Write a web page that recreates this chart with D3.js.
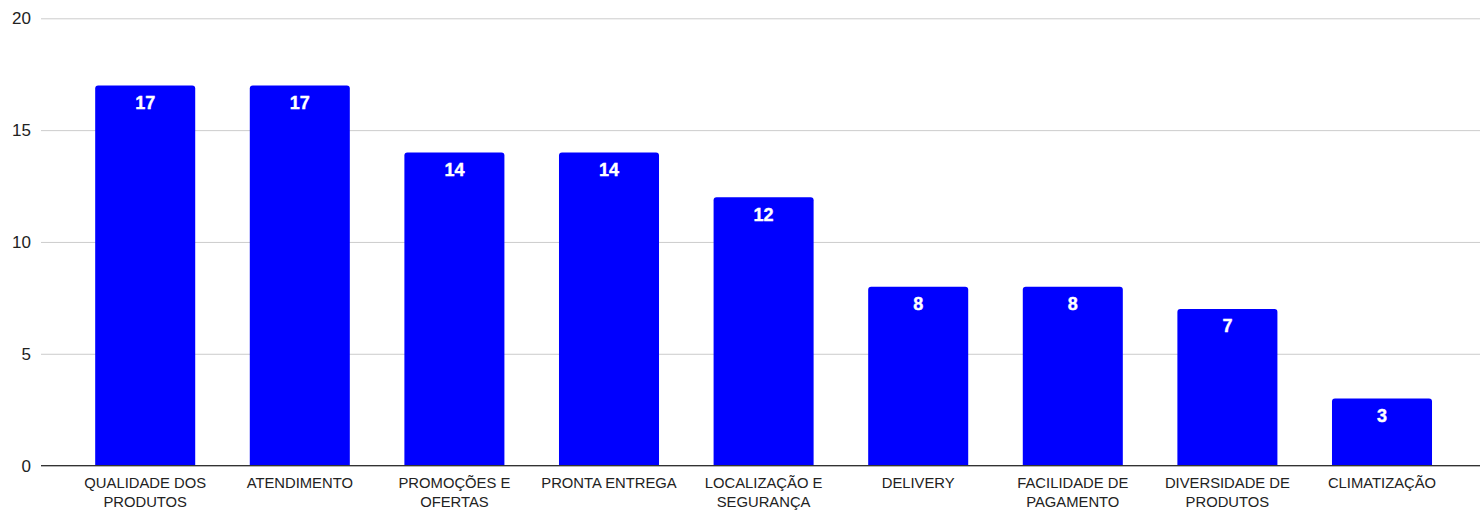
<!DOCTYPE html>
<html>
<head>
<meta charset="utf-8">
<script src="https://cdn.jsdelivr.net/npm/d3@7"></script>
<style>
  html, body { margin: 0; padding: 0; background: #fff; }
  svg { display: block; font-family: "Liberation Sans", Arial, sans-serif; }
</style>
</head>
<body>
<svg id="chart" width="1480" height="510"></svg>
<script>
const categories = [
  ["QUALIDADE DOS", "PRODUTOS"],
  ["ATENDIMENTO"],
  ["PROMOÇÕES E", "OFERTAS"],
  ["PRONTA ENTREGA"],
  ["LOCALIZAÇÃO E", "SEGURANÇA"],
  ["DELIVERY"],
  ["FACILIDADE DE", "PAGAMENTO"],
  ["DIVERSIDADE DE", "PRODUTOS"],
  ["CLIMATIZAÇÃO"]
];
const values = [17, 17, 14, 14, 12, 8, 8, 7, 3];
const yTicks = [0, 5, 10, 15, 20];

const svg = d3.select("#chart");
const gridLeft = 41, gridRight = 1480;
const yTop = 18.3, yBottom = 465.6;

const keys = categories.map((c, i) => i);
const x = d3.scaleBand().domain(keys).range([67.9, 1459.3])
  .paddingInner(0.353).paddingOuter(0.353 / 2);
const y = d3.scaleLinear().domain([0, 20]).range([yBottom, yTop]);

// gridlines
const yAxis = d3.axisLeft(y).tickValues(yTicks).tickSize(-(gridRight - gridLeft)).tickPadding(10);
const gy = svg.append("g").attr("transform", `translate(${gridLeft},0)`).call(yAxis);
gy.select(".domain").remove();
gy.selectAll(".tick line").attr("stroke", "#cccccc").attr("stroke-width", 1);
gy.selectAll(".tick text").attr("font-size", 17).attr("fill", "#222")
  .attr("font-family", "Liberation Sans, Arial, sans-serif").attr("x", -10);

// bars with rounded top corners
const r = 3;
function barPath(x0, y0, w, h) {
  const rr = Math.min(r, h);
  return `M${x0},${y0 + h}V${y0 + rr}Q${x0},${y0} ${x0 + rr},${y0}H${x0 + w - rr}Q${x0 + w},${y0} ${x0 + w},${y0 + rr}V${y0 + h}Z`;
}
svg.append("g").selectAll("path").data(values).join("path")
  .attr("d", (d, i) => barPath(x(i), y(d), x.bandwidth(), y(0) - y(d)))
  .attr("fill", "#0000ff");

// zero line
svg.append("line").attr("x1", gridLeft).attr("x2", gridRight)
  .attr("y1", y(0)).attr("y2", y(0)).attr("stroke", "#333").attr("stroke-width", 1.3);

// value labels
svg.append("g").selectAll("text").data(values).join("text")
  .attr("x", (d, i) => x(i) + x.bandwidth() / 2)
  .attr("y", d => y(d) + 17)
  .attr("dy", "0.35em")
  .attr("text-anchor", "middle")
  .attr("fill", "#fff")
  .attr("font-weight", "bold")
  .attr("font-size", 18)
  .attr("stroke", "#fff")
  .attr("stroke-width", 0.4)
  .text(d => d);

// x labels
const xl = svg.append("g").selectAll("text").data(categories).join("text")
  .attr("text-anchor", "middle")
  .attr("font-size", 14.8)
  .attr("fill", "#222");
xl.each(function(lines, i) {
  const t = d3.select(this);
  lines.forEach((ln, j) => {
    t.append("tspan").attr("x", x(i) + x.bandwidth() / 2)
      .attr("y", 483 + j * 19).attr("dy", "0.35em").text(ln);
  });
});
</script>
</body>
</html>
